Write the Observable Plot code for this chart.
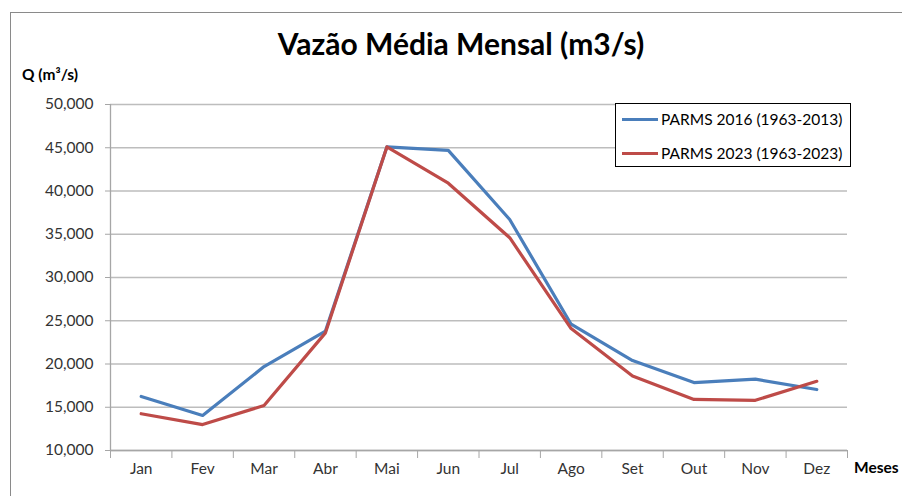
<!DOCTYPE html>
<html>
<head>
<meta charset="utf-8">
<script src="https://cdn.jsdelivr.net/npm/d3@7"></script>
<script src="https://cdn.jsdelivr.net/npm/@observablehq/plot@0.6"></script>
<style>
  html, body { margin: 0; padding: 0; background: #fff; }
  #wrap { position: relative; width: 902px; height: 496px; overflow: hidden; font-family: Lato, "Open Sans", sans-serif; }
  #frame { position: absolute; left: 10px; top: 12px; width: 1000px; height: 600px; border: 1.5px solid #8a8a8a; box-sizing: border-box; }
  #title { position: absolute; left: 0; width: 922px; top: 25px; text-align: center; font-size: 30px; font-weight: bold; color: #000; }
  #ylab { position: absolute; left: 22px; top: 65px; font-size: 15.5px; font-weight: bold; color: #000; }
  #xlab { position: absolute; left: 854px; top: 458px; font-size: 15.5px; font-weight: bold; color: #000; }
  #legend { position: absolute; left: 615px; top: 103px; width: 236px; height: 64px; border: 1px solid #000; background: #fff; box-sizing: border-box; font-size: 15.5px; color: #000; }
  .li { position: absolute; left: 6px; height: 20px; display: flex; align-items: center; white-space: nowrap; }
  .sw { width: 36px; height: 3px; margin-right: 3px; }
  #plot { position: absolute; left: 0; top: 0; }
</style>
</head>
<body>
<div id="wrap">
  <div id="frame"></div>
  <div id="plot"></div>
  <div id="title">Vazão Média Mensal (m3/s)</div>
  <div id="ylab">Q (m³/s)</div>
  <div id="xlab">Meses</div>
  <div id="legend"></div>
</div>
<script>
const months = ["Jan","Fev","Mar","Abr","Mai","Jun","Jul","Ago","Set","Out","Nov","Dez"];
const seriesNames = ["PARMS 2016 (1963-2013)", "PARMS 2023 (1963-2023)"];
const parms2016 = [16250, 14050, 19700, 23800, 45100, 44700, 36700, 24600, 20400, 17850, 18250, 17050];
const parms2023 = [14250, 13000, 15200, 23600, 45100, 40900, 34600, 24100, 18600, 15900, 15800, 18000];
const colors = ["#4a7ebb", "#be4b48"];
const yTicks = [10000, 15000, 20000, 25000, 30000, 35000, 40000, 45000, 50000];

const rows = [];
months.forEach((m, i) => {
  rows.push({i, v: parms2016[i], s: seriesNames[0]});
  rows.push({i, v: parms2023[i], s: seriesNames[1]});
});

const chart = Plot.plot({
  width: 902,
  height: 496,
  marginLeft: 110,
  marginRight: 55,
  marginTop: 104,
  marginBottom: 46,
  style: { fontFamily: "Lato, 'Open Sans', sans-serif", fontSize: "15.5px", background: "transparent", overflow: "visible" },
  x: { type: "linear", domain: [-0.5, 11.5] },
  y: { domain: [10000, 50000] },
  color: { domain: seriesNames, range: colors },
  marks: [
    Plot.gridY(yTicks, { stroke: "#bdbdbd", strokeOpacity: 1, strokeWidth: 1.3 }),
    Plot.ruleY([10000], { stroke: "#a6a6a6", strokeWidth: 1.3 }),
    Plot.ruleX([-0.5], { stroke: "#a6a6a6", strokeWidth: 1.3, y1: 50000, y2: 10000 }),
    Plot.axisY(yTicks, { tickSize: 5, tickPadding: 12, tickFormat: d3.format(","), label: null, stroke: "#a6a6a6", fill: "#333" }),
    Plot.axisX(d3.range(-0.5, 12, 1), { tickSize: 8, tickFormat: () => "", label: null, stroke: "#a6a6a6" }),
    Plot.axisX(d3.range(12), { tickSize: 0, tickPadding: 12, tickFormat: i => months[i], label: null, fill: "#333" }),
    Plot.line(rows, { x: "i", y: "v", z: "s", stroke: "s", strokeWidth: 3.2 })
  ]
});
document.getElementById("plot").appendChild(chart);

const legend = document.getElementById("legend");
seriesNames.forEach((n, k) => {
  const d = document.createElement("div");
  d.className = "li";
  d.style.top = (5 + k * 34) + "px";
  d.innerHTML = `<span class="sw" style="background:${colors[k]}"></span><span>${n}</span>`;
  legend.appendChild(d);
});
</script>
</body>
</html>
